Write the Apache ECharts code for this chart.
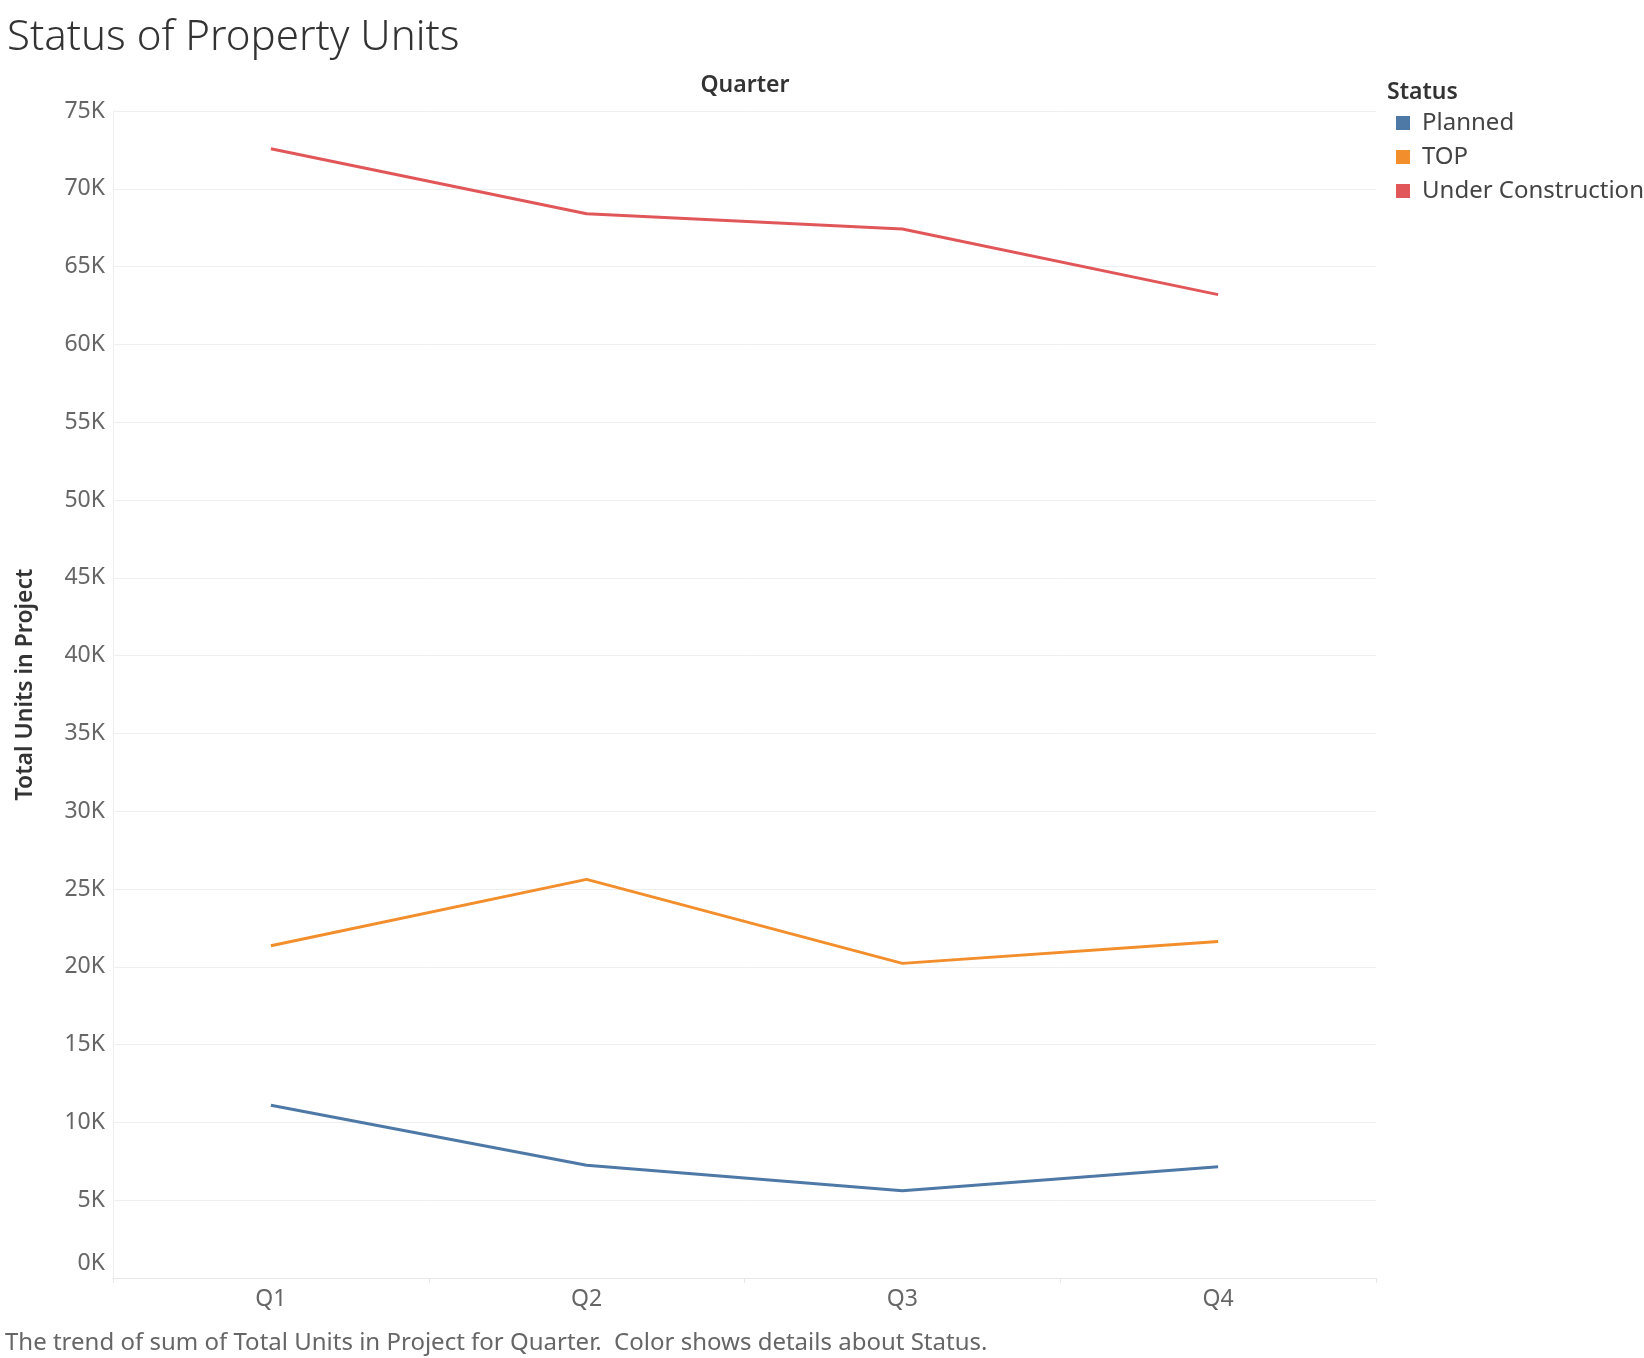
<!DOCTYPE html>
<html>
<head>
<meta charset="utf-8">
<script src="https://cdn.jsdelivr.net/npm/echarts@6/dist/echarts.min.js"></script>
<style>
html,body{margin:0;padding:0;background:#fff;}
#chart{width:1644px;height:1358px;}
</style>
</head>
<body>
<div id="chart"></div>
<script>
const quarters = ['Q1', 'Q2', 'Q3', 'Q4'];
const planned = [11100, 7250, 5600, 7150];
const top_ = [21350, 25620, 20220, 21630];
const underConstruction = [72570, 68400, 67420, 63200];
const seriesNames = ['Planned', 'TOP', 'Under Construction'];
const seriesColors = ['#4e79a7', '#f28e2b', '#e15759'];

const FONT = '"Noto Sans", sans-serif';
const chart = echarts.init(document.getElementById('chart'));
const mk = (name, data, color) => ({
  name, type: 'line', data, symbol: 'none', smooth: false,
  lineStyle: { color, width: 3 }, itemStyle: { color }
});
chart.setOption({
  animation: false,
  textStyle: { fontFamily: FONT },
  title: [
    { text: 'Status of Property Units', left: 2, top: 12,
      textStyle: { fontFamily: FONT, fontSize: 42, fontWeight: 300, color: '#333' } },
    { text: 'Quarter', left: 740, top: 69, textAlign: 'center',
      textStyle: { fontFamily: FONT, fontSize: 23, fontWeight: 600, color: '#333' } },
    { text: 'Status', left: 1382, top: 76,
      textStyle: { fontFamily: FONT, fontSize: 23, fontWeight: 600, color: '#333' } },
    { text: 'The trend of sum of Total Units in Project for Quarter.  Color shows details about Status.',
      left: 0, top: 1326,
      textStyle: { fontFamily: FONT, fontSize: 24, fontWeight: 'normal', color: '#666' } }
  ],
  legend: {
    orient: 'vertical', left: 1391, top: 106, itemWidth: 14, itemHeight: 14, itemGap: 10,
    icon: 'rect', data: seriesNames,
    textStyle: { fontFamily: FONT, fontSize: 24, color: '#444', padding: [0, 0, 0, 7] }
  },
  grid: { left: 113, right: 268, top: 111, bottom: 80 },
  xAxis: {
    type: 'category', data: quarters, boundaryGap: true,
    axisLine: { show: true, lineStyle: { color: '#e6e6e6', width: 1 } },
    axisTick: { show: true, length: 5, lineStyle: { color: '#e6e6e6' } },
    axisLabel: { fontFamily: FONT, fontSize: 23, color: '#666', margin: 10 },
    splitLine: { show: false }
  },
  yAxis: {
    type: 'value', min: 0, max: 75000, interval: 5000,
    name: 'Total Units in Project', nameLocation: 'middle', nameGap: 76, nameRotate: 90,
    nameTextStyle: { fontFamily: FONT, fontSize: 23, fontWeight: 600, color: '#333', padding: [0, 0, 0, 20] },
    axisLine: { show: true, lineStyle: { color: '#eeeeee', width: 1 } },
    axisTick: { show: false },
    axisLabel: {
      fontFamily: FONT, fontSize: 23, color: '#666', margin: 8,
      formatter: v => v === 0 ? '{z|0K}' : (v / 1000) + 'K',
      rich: { z: { fontFamily: FONT, fontSize: 23, color: '#666', padding: [0, 0, 30, 0] } }
    },
    splitLine: { show: true, lineStyle: { color: '#efefef', width: 1 } }
  },
  series: [
    mk(seriesNames[0], planned, seriesColors[0]),
    mk(seriesNames[1], top_, seriesColors[1]),
    mk(seriesNames[2], underConstruction, seriesColors[2])
  ]
});
</script>
</body>
</html>
